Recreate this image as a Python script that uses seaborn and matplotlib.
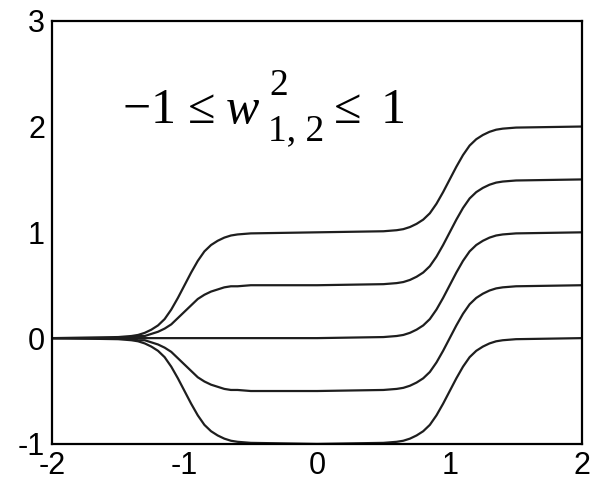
import matplotlib
matplotlib.use("Agg")
import matplotlib.pyplot as plt
import seaborn as sns
import pandas as pd

x_vals = [-2.0, -1.5,
          -1.4, -1.35, -1.3, -1.25, -1.2, -1.15, -1.1, -1.05, -1.0,
          -0.95, -0.9, -0.85, -0.8, -0.75, -0.7, -0.65, -0.6,
          -0.5, 0.0, 0.5,
          0.6, 0.65, 0.7, 0.75, 0.8, 0.85, 0.9, 0.95, 1.0,
          1.05, 1.1, 1.15, 1.2, 1.25, 1.3, 1.35, 1.4,
          1.5, 2.0]

# curves for w = 1, 0.5, 0, -0.5, -1
curve_w_p1 = [0.00, 0.01,
              0.02, 0.03, 0.05, 0.08, 0.12, 0.18, 0.27, 0.38, 0.50,
              0.62, 0.73, 0.82, 0.88, 0.92, 0.95, 0.97, 0.98,
              0.99, 1.00, 1.01,
              1.02, 1.03, 1.05, 1.08, 1.12, 1.18, 1.27, 1.38, 1.50,
              1.62, 1.73, 1.82, 1.88, 1.92, 1.95, 1.97, 1.98,
              1.99, 2.00]
curve_w_p05 = [0.00, 0.00,
               0.01, 0.02, 0.02, 0.04, 0.06, 0.09, 0.13, 0.19, 0.25,
               0.31, 0.37, 0.41, 0.44, 0.46, 0.48, 0.49, 0.49,
               0.50, 0.50, 0.51,
               0.52, 0.53, 0.55, 0.58, 0.62, 0.68, 0.77, 0.88, 1.00,
               1.12, 1.23, 1.32, 1.38, 1.42, 1.45, 1.47, 1.48,
               1.49, 1.50]
curve_w_0 = [0.00, 0.00,
             0.00, 0.00, 0.00, 0.00, 0.00, 0.00, 0.00, 0.00, 0.00,
             0.00, 0.00, 0.00, 0.00, 0.00, 0.00, 0.00, 0.00,
             0.00, 0.00, 0.01,
             0.02, 0.03, 0.05, 0.08, 0.12, 0.18, 0.27, 0.38, 0.50,
             0.62, 0.73, 0.82, 0.88, 0.92, 0.95, 0.97, 0.98,
             0.99, 1.00]
curve_w_m05 = [0.00, 0.00,
               -0.01, -0.02, -0.02, -0.04, -0.06, -0.09, -0.13, -0.19, -0.25,
               -0.31, -0.37, -0.41, -0.44, -0.46, -0.48, -0.49, -0.49,
               -0.50, -0.50, -0.49,
               -0.48, -0.47, -0.45, -0.42, -0.38, -0.32, -0.23, -0.12, 0.00,
               0.12, 0.23, 0.32, 0.38, 0.42, 0.45, 0.47, 0.48,
               0.49, 0.50]
curve_w_m1 = [0.00, -0.01,
              -0.02, -0.03, -0.05, -0.08, -0.12, -0.18, -0.27, -0.38, -0.50,
              -0.62, -0.73, -0.82, -0.88, -0.92, -0.95, -0.97, -0.98,
              -0.99, -1.00, -0.99,
              -0.98, -0.97, -0.95, -0.92, -0.88, -0.82, -0.73, -0.62, -0.50,
              -0.38, -0.27, -0.18, -0.12, -0.08, -0.05, -0.03, -0.02,
              -0.01, 0.00]

curve_names = ["w=1", "w=0.5", "w=0", "w=-0.5", "w=-1"]
curves = [curve_w_p1, curve_w_p05, curve_w_0, curve_w_m05, curve_w_m1]

x_ticks = [-2, -1, 0, 1, 2]
y_ticks = [-1, 0, 1, 2, 3]
x_ticklabels = ["-2", "-1", "0", "1", "2"]
y_ticklabels = ["-1", "0", "1", "2", "3"]

# annotation "−1 ≤ w^2_{1, 2} ≤ 1" as pieces: (text, size, italic, centre px, baseline px)
label_pieces = [
    ("\u2212", 36, False, 137, 123),
    ("1", 36, False, 163, 123),
    ("\u2264", 36, False, 202, 123),
    ("w", 36, True, 242, 123),
    ("2", 27, False, 279, 95),
    ("1, 2", 27, False, 296, 140),
    ("\u2264", 36, False, 348, 123),
    ("1", 36, False, 393, 123),
]

rows = []
for name, ys in zip(curve_names, curves):
    for xv, yv in zip(x_vals, ys):
        rows.append({"p": xv, "a": yv, "curve": name})
df = pd.DataFrame(rows)

sns.set_style("white")
plt.rcParams["font.family"] = ["Liberation Sans", "DejaVu Sans"]

W, H = 590, 482
fig = plt.figure(figsize=(W / 100, H / 100), dpi=100)
ax = fig.add_axes([0.088, 0.079, 0.899, 0.878])

sns.lineplot(data=df, x="p", y="a", hue="curve",
             palette=["#1e1e1e"] * 5, estimator=None, sort=False,
             linewidth=1.6, legend=False, ax=ax)

ax.set_xlim(-2, 2)
ax.set_ylim(-1, 3)
ax.set_xticks(x_ticks)
ax.set_xticklabels(x_ticklabels)
ax.set_yticks(y_ticks)
ax.set_yticklabels(y_ticklabels)
ax.set_xlabel("")
ax.set_ylabel("")
ax.tick_params(direction="in", length=5, width=1.2, labelsize=22,
               colors="black", pad=5)
ax.tick_params(axis="x", pad=5)
for sp in ax.spines.values():
    sp.set_visible(True)
    sp.set_color("black")
    sp.set_linewidth(1.6)

for txt, size, italic, cx, by in label_pieces:
    fig.text(cx / W, 1 - by / H, txt, fontsize=size,
             family=["Liberation Serif", "DejaVu Serif"],
             style="italic" if italic else "normal",
             ha="center", va="baseline", color="black")

fig.savefig("out.png", dpi=100)
